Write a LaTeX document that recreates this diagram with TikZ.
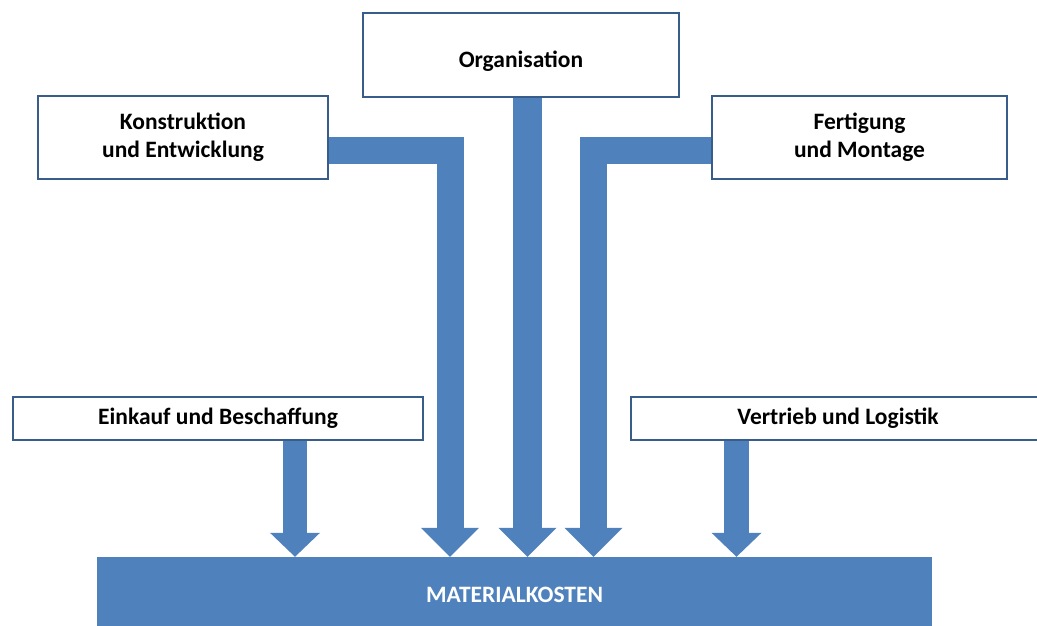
\documentclass[tikz,border=0pt]{standalone}
\usepackage{fontspec}
\setmainfont{Carlito}
\usetikzlibrary{arrows.meta}
\definecolor{arrowblue}{HTML}{4F81BD}
\definecolor{edgeblue}{HTML}{385D8A}
\tikzset{
  lblfont/.style={font=\fontsize{23.5}{28}\selectfont\bfseries},
  box/.style={draw=edgeblue, line width=2.6pt, fill=white, rectangle, inner sep=0pt,
    lblfont, align=center, text=black},
  bigarrow/.style={draw=arrowblue, line width=28pt, line join=miter,
    -{Triangle[length=29pt, width=58pt, line width=0pt]}},
  smallarrow/.style={draw=arrowblue, line width=24pt, line join=miter,
    -{Triangle[length=24pt, width=50pt, line width=0pt]}},
}
\begin{document}
\begin{tikzpicture}[x=1pt, y=-1pt]
\useasboundingbox (0,0) rectangle (1037,626);
\clip (0,0) rectangle (1037,626);
% boxes
\node[box, minimum width=316pt, minimum height=84pt] (org) at (521,55) {};
\node[lblfont, anchor=base] (orgtxt) at (521,67) {Organisation};
\node[box, minimum width=290pt, minimum height=83pt] (kon) at (183,137.5) {Konstruktion\\und Entwicklung};
\node[box, minimum width=295pt, minimum height=83pt] (fer) at (859.5,137.5) {Fertigung\\und Montage};
\node[box, minimum width=410pt, minimum height=43pt] (ein) at (218,418.5) {Einkauf und Beschaffung};
\node[box, minimum width=414pt, minimum height=43pt] (ver) at (838,418.5) {Vertrieb und Logistik};
\node[fill=arrowblue, minimum width=835pt, minimum height=75pt, inner sep=0pt,
  lblfont, text=white] (mat) at (514.5,594.5) {MATERIALKOSTEN};
% helper coordinates
\coordinate (bar) at (0,150.5);
\coordinate (kx) at (450,0);
\coordinate (fx) at (593.5,0);
\coordinate (ox) at (527.5,0);
\coordinate (ex) at (295,0);
\coordinate (vx) at (736.5,0);
% arrows
\draw[bigarrow, line width=27pt] (kon.east |- bar) -| (kx |- mat.north);
\draw[bigarrow, line width=27pt] (fer.west |- bar) -| (fx |- mat.north);
\draw[bigarrow, line width=29pt] (ox |- org.south) -- (ox |- mat.north);
\draw[smallarrow] (ex |- ein.south) -- (ex |- mat.north);
\draw[smallarrow, line width=25pt] (vx |- ver.south) -- (vx |- mat.north);
\end{tikzpicture}
\end{document}
